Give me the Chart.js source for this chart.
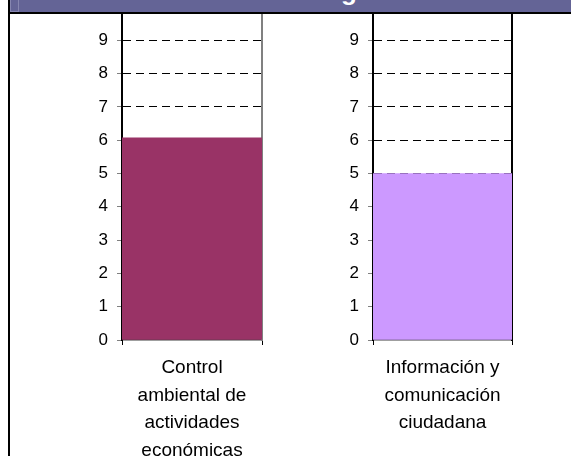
<!DOCTYPE html>
<html>
<head>
<meta charset="utf-8">
<script src="https://cdn.jsdelivr.net/npm/chart.js@4.4.1/dist/chart.umd.min.js"></script>
<style>
  html, body { margin: 0; padding: 0; background: #fff; }
  #wrap { position: relative; width: 571px; height: 456px; overflow: hidden; background: #fff; }
  canvas { position: absolute; top: 0; }
  #header { position: absolute; left: 8px; top: 0; width: 563px; height: 12px; background: #646496; border-bottom: 2px solid #000; z-index: 5; overflow: hidden; }
  #hbox { position: absolute; left: 2px; top: -1px; width: 7px; height: 11px; border: 1px solid #8686b0; }
  #htitle { position: absolute; left: 333px; top: -22px; font: bold 26px "Liberation Sans", Arial, sans-serif; line-height: 26px; color: #fff; white-space: nowrap; }
  #lborder { position: absolute; left: 8px; top: 0; width: 2px; height: 456px; background: #000; z-index: 6; }
</style>
</head>
<body>
<div id="wrap">
  <canvas id="c1" width="285" height="456" style="left:0;width:285px;height:456px"></canvas>
  <canvas id="c2" width="286" height="456" style="left:285px;width:286px;height:456px"></canvas>
  <div id="header"><div id="hbox"></div><div id="htitle">g</div></div>
  <div id="lborder"></div>
</div>
<script>
const categoriesLeft = [['Control', 'ambiental de', 'actividades', 'económicas']];
const valuesLeft = [6.07];
const categoriesRight = [['Información y', 'comunicación', 'ciudadana']];
const valuesRight = [5];
const yMin = 0;
const yMax = 10;
const yStep = 1;

const FONT = '"Liberation Sans", Arial, sans-serif';

function zeroPad(s) { s.paddingTop = 0; s.paddingBottom = 0; s.paddingLeft = 0; s.paddingRight = 0; }

function makeChart(id, labels, values, color, axisWidth, padRight, edgeColor) {
  return new Chart(document.getElementById(id), {
    type: 'bar',
    data: {
      labels: labels,
      datasets: [{
        data: values,
        backgroundColor: color,
        borderWidth: 0,
        barPercentage: 1,
        categoryPercentage: 1
      }]
    },
    options: {
      responsive: false,
      animation: false,
      devicePixelRatio: 1,
      layout: { padding: { left: 0, right: padRight, top: 7, bottom: 0 } },
      plugins: { legend: { display: false }, tooltip: { enabled: false }, title: { display: false } },
      scales: {
        x: {
          offset: true,
          grid: { display: true, drawOnChartArea: false, offset: true, tickLength: 5, color: '#000', lineWidth: 1 },
          border: { display: true, color: '#404040', width: 1.5 },
          ticks: {
            padding: 9,
            color: '#000',
            font: { family: FONT, size: 19, lineHeight: 1.45 },
            maxRotation: 0, minRotation: 0, autoSkip: false
          },
          afterFit: (s) => { s.height = 456 - 340; zeroPad(s); }
        },
        y: {
          min: yMin, max: yMax,
          grid: {
            color: (ctx) => (ctx.tick && ctx.tick.value > 0 && ctx.tick.value < yMax) ? '#000' : 'rgba(0,0,0,0)',
            lineWidth: 1,
            tickLength: 5,
            tickColor: '#808080',
            tickWidth: 1
          },
          border: { display: true, color: '#000', width: 2, dash: [8, 5] },
          ticks: {
            stepSize: yStep,
            padding: 9,
            color: '#000',
            font: { family: FONT, size: 17 },
            callback: (v) => (v === yMax ? null : v)
          },
          afterFit: (s) => { s.width = axisWidth; zeroPad(s); }
        },
        yEdge: {
          position: 'right',
          min: yMin, max: yMax,
          grid: { display: false, drawTicks: false },
          ticks: { display: false },
          border: { display: true, color: edgeColor, width: 2 },
          afterFit: (s) => { s.width = 0; zeroPad(s); }
        }
      }
    }
  });
}

makeChart('c1', categoriesLeft, valuesLeft, '#993366', 122, 23, '#808080');
makeChart('c2', categoriesRight, valuesRight, '#CC99FF', 88, 59, '#000');
</script>
</body>
</html>
